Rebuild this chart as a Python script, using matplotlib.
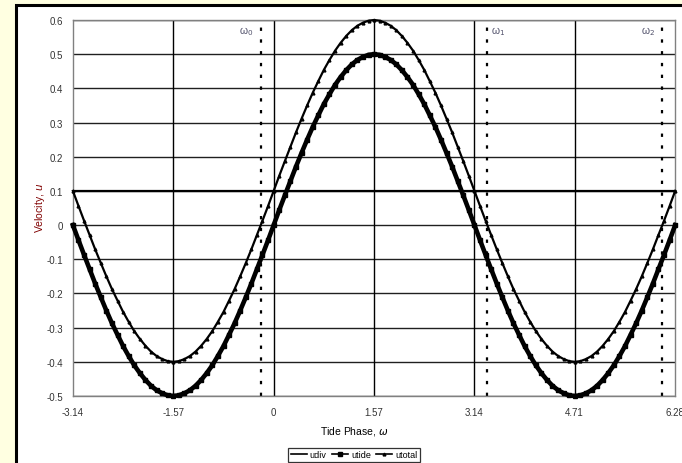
import matplotlib
matplotlib.use('Agg')
import matplotlib.pyplot as plt
from matplotlib.patches import Rectangle

plt.rcParams['font.family'] = ['Liberation Sans', 'DejaVu Sans']

# tide phase (rad), 5 degree steps from -pi to 2*pi
phase = [-3.142, -3.054, -2.967, -2.880, -2.793, -2.705, -2.618, -2.531, -2.443, -2.356,
         -2.269, -2.182, -2.094, -2.007, -1.920, -1.833, -1.745, -1.658, -1.571, -1.484,
         -1.396, -1.309, -1.222, -1.134, -1.047, -0.960, -0.873, -0.785, -0.698, -0.611,
         -0.524, -0.436, -0.349, -0.262, -0.175, -0.087, 0.000, 0.087, 0.175, 0.262,
         0.349, 0.436, 0.524, 0.611, 0.698, 0.785, 0.873, 0.960, 1.047, 1.134,
         1.222, 1.309, 1.396, 1.484, 1.571, 1.658, 1.745, 1.833, 1.920, 2.007,
         2.094, 2.182, 2.269, 2.356, 2.443, 2.531, 2.618, 2.705, 2.793, 2.880,
         2.967, 3.054, 3.142, 3.229, 3.316, 3.403, 3.491, 3.578, 3.665, 3.752,
         3.840, 3.927, 4.014, 4.102, 4.189, 4.276, 4.363, 4.451, 4.538, 4.625,
         4.712, 4.800, 4.887, 4.974, 5.061, 5.149, 5.236, 5.323, 5.411, 5.498,
         5.585, 5.672, 5.760, 5.847, 5.934, 6.021, 6.109, 6.196, 6.283]

utide = [0.0, -0.044, -0.087, -0.129, -0.171, -0.211, -0.25, -0.287, -0.321, -0.354,
         -0.383, -0.41, -0.433, -0.453, -0.47, -0.483, -0.492, -0.498, -0.5,
         -0.498, -0.492, -0.483, -0.47, -0.453, -0.433, -0.41, -0.383, -0.354, -0.321,
         -0.287, -0.25, -0.211, -0.171, -0.129, -0.087, -0.044, 0.0,
         0.044, 0.087, 0.129, 0.171, 0.211, 0.25, 0.287, 0.321, 0.354,
         0.383, 0.41, 0.433, 0.453, 0.47, 0.483, 0.492, 0.498, 0.5,
         0.498, 0.492, 0.483, 0.47, 0.453, 0.433, 0.41, 0.383, 0.354, 0.321,
         0.287, 0.25, 0.211, 0.171, 0.129, 0.087, 0.044, 0.0,
         -0.044, -0.087, -0.129, -0.171, -0.211, -0.25, -0.287, -0.321, -0.354,
         -0.383, -0.41, -0.433, -0.453, -0.47, -0.483, -0.492, -0.498, -0.5,
         -0.498, -0.492, -0.483, -0.47, -0.453, -0.433, -0.41, -0.383, -0.354, -0.321,
         -0.287, -0.25, -0.211, -0.171, -0.129, -0.087, -0.044, 0.0]

utotal = [0.1, 0.056, 0.013, -0.029, -0.071, -0.111, -0.15, -0.187, -0.221, -0.254,
          -0.283, -0.31, -0.333, -0.353, -0.37, -0.383, -0.392, -0.398, -0.4,
          -0.398, -0.392, -0.383, -0.37, -0.353, -0.333, -0.31, -0.283, -0.254, -0.221,
          -0.187, -0.15, -0.111, -0.071, -0.029, 0.013, 0.056, 0.1,
          0.144, 0.187, 0.229, 0.271, 0.311, 0.35, 0.387, 0.421, 0.454,
          0.483, 0.51, 0.533, 0.553, 0.57, 0.583, 0.592, 0.598, 0.6,
          0.598, 0.592, 0.583, 0.57, 0.553, 0.533, 0.51, 0.483, 0.454, 0.421,
          0.387, 0.35, 0.311, 0.271, 0.229, 0.187, 0.144, 0.1,
          0.056, 0.013, -0.029, -0.071, -0.111, -0.15, -0.187, -0.221, -0.254,
          -0.283, -0.31, -0.333, -0.353, -0.37, -0.383, -0.392, -0.398, -0.4,
          -0.398, -0.392, -0.383, -0.37, -0.353, -0.333, -0.31, -0.283, -0.254, -0.221,
          -0.187, -0.15, -0.111, -0.071, -0.029, 0.013, 0.056, 0.1]

udiv_phase = [-3.14, 6.28]
udiv = [0.1, 0.1]

# zero crossings of utotal
omega_pos = [-0.2, 3.34, 6.08]
omega_lab = [r'ω$_0$', r'ω$_1$', r'ω$_2$']
omega_side = ['left', 'right', 'left']

xticks = [-3.14, -1.57, 0, 1.57, 3.14, 4.71, 6.28]
yticks = [-0.5, -0.4, -0.3, -0.2, -0.1, 0, 0.1, 0.2, 0.3, 0.4, 0.5, 0.6]

W, H = 682, 464
fig = plt.figure(figsize=(W / 100, H / 100), dpi=100)
fig.patch.set_facecolor('#FFFFE1')

# white chart area with thick black frame, cut off at right/bottom
fig.add_artist(Rectangle((16 / W, -0.05), 1.1, (H - 6) / H + 0.05,
                         transform=fig.transFigure, facecolor='white',
                         edgecolor='black', linewidth=2.2, zorder=0))

ax = fig.add_axes([73 / W, (H - 397) / H, (675 - 73) / W, (397 - 21) / H])
ax.set_facecolor('white')

for v in yticks:
    ax.axhline(v, color='#202020', linewidth=1.0, zorder=1)
for v in xticks[1:-1]:
    ax.axvline(v, color='black', linewidth=1.0, zorder=1)

for x, lab, side in zip(omega_pos, omega_lab, omega_side):
    ax.axvline(x, color='black', linewidth=1.6, dashes=(1.5, 3.8), zorder=2)
    off = -0.12 if side == 'left' else 0.06
    ax.text(x + off, 0.57, lab, ha='right' if side == 'left' else 'left',
            va='center', fontsize=7.5, color='#50506a')

ax.plot(udiv_phase, udiv, color='black', linewidth=1.6, label='udiv', zorder=3)
ax.plot(phase, utide, color='black', linewidth=3.3, marker='s', markersize=3.2,
        label='utide', zorder=4, clip_on=False)
ax.plot(phase, utotal, color='black', linewidth=1.6, marker='^', markersize=2,
        label='utotal', zorder=4, clip_on=False)

ax.set_xlim(-3.14, 6.28)
ax.set_ylim(-0.5, 0.6)
ax.set_xticks(xticks)
ax.set_xticklabels(['-3.14', '-1.57', '0', '1.57', '3.14', '4.71', '6.28'])
ax.set_yticks(yticks)
ax.set_yticklabels(['-0.5', '-0.4', '-0.3', '-0.2', '-0.1', '0', '0.1', '0.2',
                    '0.3', '0.4', '0.5', '0.6'])
ax.tick_params(length=0, labelsize=7, labelcolor='#333333')
ax.tick_params(axis='x', pad=8)
ax.tick_params(axis='y', pad=7)
for s in ax.spines.values():
    s.set_color('#808080')
    s.set_linewidth(1.0)

fig.text(40 / W, 1 - 208 / H, 'Velocity, $u$', rotation=90, ha='center',
         va='center', fontsize=7.5, color='#800000')
fig.text(354 / W, 1 - 432 / H, r'Tide Phase, $\omega$', ha='center',
         va='center', fontsize=7.5, color='black')

leg = fig.legend(loc='center', bbox_to_anchor=(354 / W, 1 - 456 / H), ncol=3,
                 fontsize=6.5, frameon=True, fancybox=False, handlelength=1.8,
                 handletextpad=0.3, columnspacing=0.6, borderpad=0.25,
                 markerscale=1.0)
leg.get_frame().set_edgecolor('black')
leg.get_frame().set_linewidth(0.9)
for h in leg.legend_handles:
    h.set_linewidth(1.2)

fig.savefig('out.png', dpi=100, facecolor=fig.get_facecolor())
